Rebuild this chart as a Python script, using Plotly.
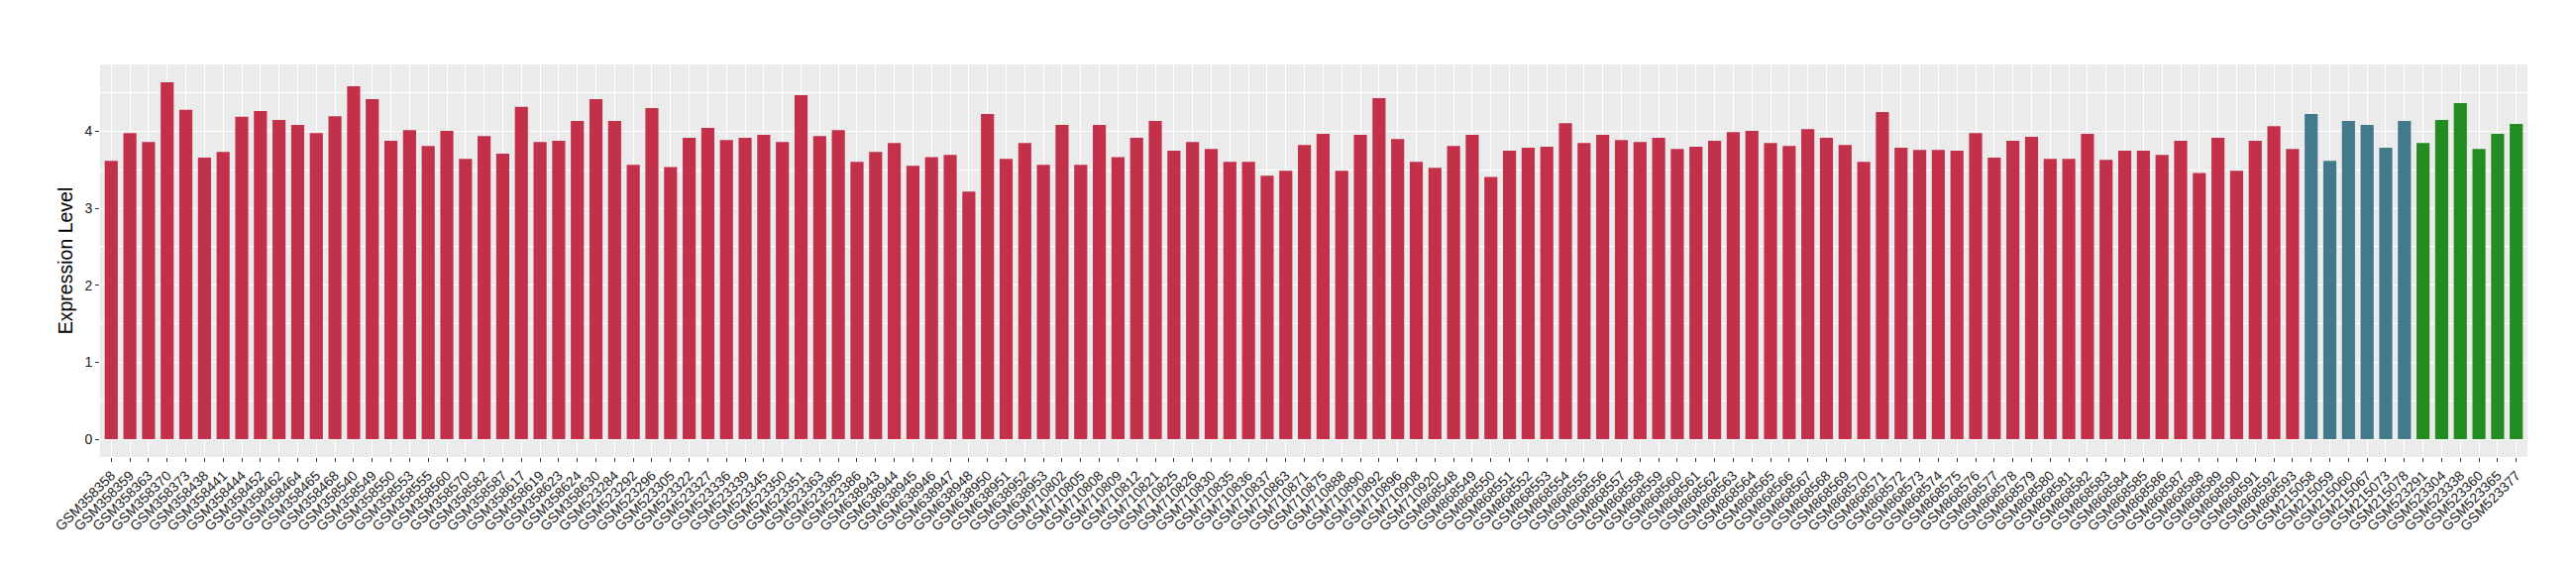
import plotly.graph_objects as go

samples_a = [
    "GSM358358", "GSM358359", "GSM358363", "GSM358370", "GSM358373", "GSM358438", "GSM358441",
    "GSM358444", "GSM358452", "GSM358462", "GSM358464", "GSM358465", "GSM358468", "GSM358540",
    "GSM358549", "GSM358550", "GSM358553", "GSM358555", "GSM358560", "GSM358570", "GSM358582",
    "GSM358587", "GSM358617", "GSM358619", "GSM358623", "GSM358624", "GSM358630", "GSM523284",
    "GSM523292", "GSM523296", "GSM523305", "GSM523322", "GSM523327", "GSM523336", "GSM523339",
    "GSM523345", "GSM523350", "GSM523351", "GSM523363", "GSM523385", "GSM523386", "GSM638943",
    "GSM638944", "GSM638945", "GSM638946", "GSM638947", "GSM638948", "GSM638950", "GSM638951",
    "GSM638952", "GSM638953", "GSM710802", "GSM710805", "GSM710808", "GSM710809", "GSM710812",
    "GSM710821", "GSM710825", "GSM710826", "GSM710830", "GSM710835", "GSM710836", "GSM710837",
    "GSM710863", "GSM710871", "GSM710875", "GSM710888", "GSM710890", "GSM710892", "GSM710896",
    "GSM710908", "GSM710920", "GSM868548", "GSM868549", "GSM868550", "GSM868551", "GSM868552",
    "GSM868553", "GSM868554", "GSM868555", "GSM868556", "GSM868557", "GSM868558", "GSM868559",
    "GSM868560", "GSM868561", "GSM868562", "GSM868563", "GSM868564", "GSM868565", "GSM868566",
    "GSM868567", "GSM868568", "GSM868569", "GSM868570", "GSM868571", "GSM868572", "GSM868573",
    "GSM868574", "GSM868575", "GSM868576", "GSM868577", "GSM868578", "GSM868579", "GSM868580",
    "GSM868581", "GSM868582", "GSM868583", "GSM868584", "GSM868585", "GSM868586", "GSM868587",
    "GSM868588", "GSM868589", "GSM868590", "GSM868591", "GSM868592", "GSM868593",
]
values_a = [
    3.617, 3.976, 3.861, 4.636, 4.278, 3.656, 3.732, 4.187, 4.263, 4.148, 4.081, 3.976, 4.196, 4.584,
    4.416, 3.876, 4.014, 3.809, 4.005, 3.641, 3.938, 3.708, 4.316, 3.861, 3.876, 4.134, 4.416, 4.134,
    3.565, 4.301, 3.536, 3.914, 4.043, 3.885, 3.914, 3.952, 3.861, 4.469, 3.938, 4.014, 3.603, 3.732,
    3.847, 3.550, 3.665, 3.694, 3.215, 4.225, 3.641, 3.847, 3.565, 4.081, 3.565, 4.081, 3.665, 3.914,
    4.134, 3.746, 3.861, 3.770, 3.603, 3.603, 3.421, 3.488, 3.823, 3.967, 3.488, 3.952, 4.431, 3.900,
    3.603, 3.526, 3.809, 3.952, 3.407, 3.746, 3.785, 3.799, 4.105, 3.847, 3.952, 3.885, 3.861, 3.914,
    3.770, 3.799, 3.876, 3.990, 4.005, 3.847, 3.809, 4.029, 3.914, 3.823, 3.603, 4.249, 3.785, 3.756,
    3.756, 3.746, 3.976, 3.656, 3.876, 3.928, 3.641, 3.641, 3.967, 3.627, 3.746, 3.746, 3.694, 3.876,
    3.459, 3.914, 3.488, 3.876, 4.067, 3.770,
]
samples_b = ["GSM215058", "GSM215059", "GSM215060", "GSM215067", "GSM215073", "GSM215078"]
values_b = [4.225, 3.617, 4.134, 4.081, 3.785, 4.134]
samples_c = ["GSM523291", "GSM523304", "GSM523338", "GSM523360", "GSM523365", "GSM523377"]
values_c = [3.847, 4.148, 4.364, 3.770, 3.967, 4.096]

color_a = "#C3304A"
color_b = "#437A8B"
color_c = "#228B22"

all_samples = samples_a + samples_b + samples_c
all_values = values_a + values_b + values_c
n = len(all_samples)
vmax = max(all_values)
pad = 0.05 * vmax

fig = go.Figure()
for xs, ys, col in [(samples_a, values_a, color_a), (samples_b, values_b, color_b), (samples_c, values_c, color_c)]:
    fig.add_trace(go.Bar(x=xs, y=ys, marker=dict(color=col, line=dict(width=0)), width=0.7, showlegend=False))

fig.update_layout(
    width=2600, height=580,
    margin=dict(l=93, r=57, t=57, b=127),
    paper_bgcolor="white",
    plot_bgcolor="#EBEBEB",
    barmode="overlay",
    font=dict(family="Liberation Sans, Arial, sans-serif", color="#333333"),
)
fig.update_xaxes(
    type="category", categoryorder="array", categoryarray=all_samples,
    range=[-0.6, n - 1 + 0.6], automargin=False,
    showgrid=True, gridcolor="white", gridwidth=1.4,
    ticks="outside", ticklen=4, tickcolor="#333333", tickwidth=1,
    tickangle=-45, tickfont=dict(size=14, color="#222222"),
    showline=False, zeroline=False,
)
fig.update_yaxes(
    range=[-pad, vmax + pad], automargin=False,
    tickmode="linear", tick0=0, dtick=1,
    showgrid=True, gridcolor="white", gridwidth=1.4,
    minor=dict(dtick=0.5, showgrid=True, gridcolor="white", gridwidth=0.7),
    ticks="outside", ticklen=4, tickcolor="#333333", tickwidth=1,
    tickfont=dict(size=14, color="#222222"),
    zeroline=False, showline=False,
    title=dict(text="Expression Level", font=dict(size=19.5, color="black"), standoff=6),
)

fig.write_html("out.html")
